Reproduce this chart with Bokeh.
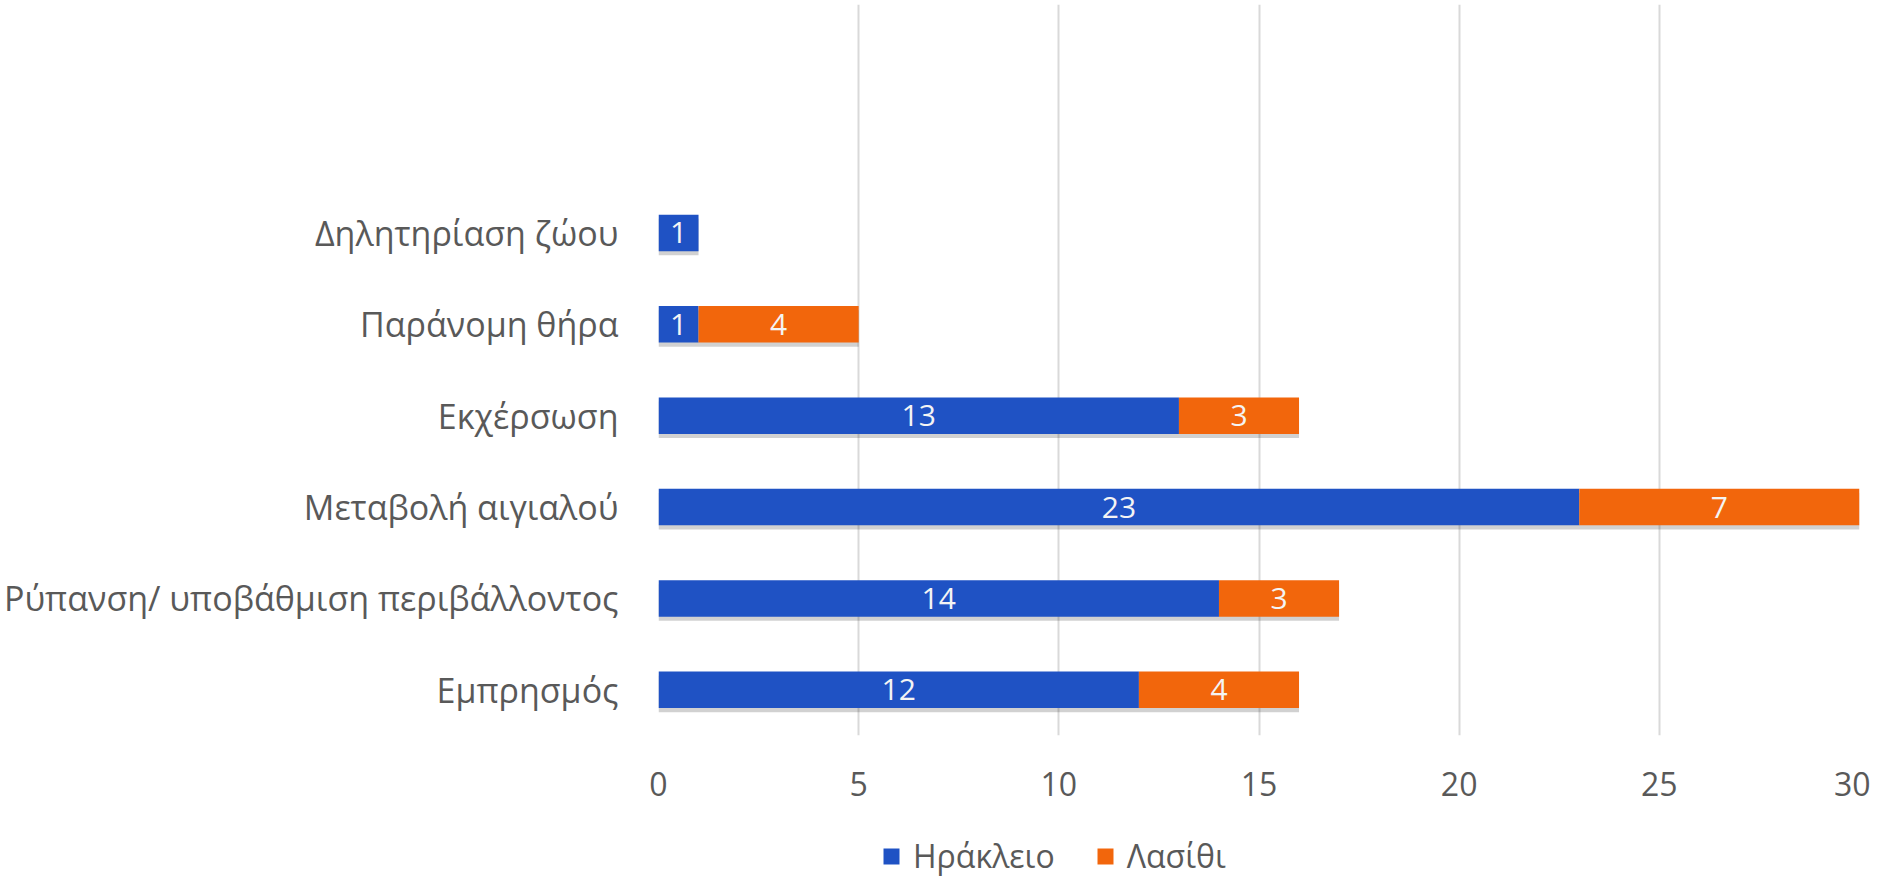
from bokeh.plotting import figure
from bokeh.layouts import column
from bokeh.models import Range1d, FixedTicker, Legend, LegendItem, ColumnDataSource
from bokeh.core.properties import value
from bokeh.embed import file_html
from bokeh.resources import INLINE

# Data (bottom to top)
categories = ["Εμπρησμός", "Ρύπανση/ υποβάθμιση περιβάλλοντος", "Μεταβολή αιγιαλού",
              "Εκχέρσωση", "Παράνομη θήρα", "Δηλητηρίαση ζώου"]
heraklion = [12, 14, 23, 13, 1, 1]
lasithi = [4, 3, 7, 3, 4, 0]
series_names = ["Ηράκλειο", "Λασίθι"]
x_ticks = [0, 5, 10, 15, 20, 25, 30]

BLUE = "#1F52C4"
ORANGE = "#F2660C"
GREY_TXT = "#595959"
FONT = "Open Sans"

ys = list(range(len(categories)))
left2 = heraklion[:]
right2 = [a + b for a, b in zip(heraklion, lasithi)]

W = 1870
H_MAIN = 833
H_LEG = 44

p = figure(width=W, height=H_MAIN, output_backend="svg", toolbar_location=None,
           x_range=Range1d(0, 30), y_range=Range1d(-0.5, 7.5),
           min_border_left=654, min_border_right=11, min_border_top=4,
           min_border_bottom=H_MAIN - 735)
p.outline_line_color = None
p.background_fill_color = "white"
p.border_fill_color = "white"

# grid
p.xgrid.ticker = FixedTicker(ticks=x_ticks)
p.xgrid.grid_line_color = "#D9D9D9"
p.xgrid.grid_line_width = 2
p.ygrid.grid_line_color = None

# axes
p.xaxis.ticker = FixedTicker(ticks=x_ticks)
p.xaxis.axis_line_color = None
p.xaxis.major_tick_line_color = None
p.xaxis.minor_tick_line_color = None
p.xaxis.major_label_text_font = FONT
p.xaxis.major_label_text_font_size = "32px"
p.xaxis.major_label_text_color = GREY_TXT
p.xaxis.major_label_standoff = 30

p.yaxis.ticker = FixedTicker(ticks=ys)
p.yaxis.major_label_overrides = {i: c for i, c in enumerate(categories)}
p.yaxis.axis_line_color = None
p.yaxis.major_tick_line_color = None
p.yaxis.minor_tick_line_color = None
p.yaxis.major_label_text_font = FONT
p.yaxis.major_label_text_font_size = "34px"
p.yaxis.major_label_text_color = GREY_TXT
p.yaxis.major_label_standoff = 34

H_BAR = 0.40
SH = 0.045

# shadows
p.hbar(y=[y - SH for y in ys], left=0, right=right2, height=H_BAR,
       fill_color="#000000", fill_alpha=0.18, line_color=None)

src1 = ColumnDataSource(dict(y=ys, left=[0] * len(ys), right=heraklion))
r1 = p.hbar(y="y", left="left", right="right", height=H_BAR, source=src1,
            fill_color=BLUE, line_color=None)
src2 = ColumnDataSource(dict(y=ys, left=left2, right=right2))
r2 = p.hbar(y="y", left="left", right="right", height=H_BAR, source=src2,
            fill_color=ORANGE, line_color=None)

# data labels
lx, ly, lt = [], [], []
for i in ys:
    if heraklion[i] > 0:
        lx.append(heraklion[i] / 2); ly.append(i); lt.append(str(heraklion[i]))
    if lasithi[i] > 0:
        lx.append(heraklion[i] + lasithi[i] / 2); ly.append(i); lt.append(str(lasithi[i]))
p.text(x=lx, y=ly, text=lt, text_align="center", text_baseline="middle",
       text_color="#F4F4F4", text_font=value(FONT), text_font_size="30px")

# legend strip (separate figure below the chart; its frame aligns with the chart's)
p2 = figure(width=W, height=H_LEG, output_backend="svg", toolbar_location=None,
            x_range=Range1d(0, 30), y_range=Range1d(100, 101), min_border=0)
p2.axis.visible = False
p2.grid.visible = False
p2.outline_line_color = None
p2.background_fill_color = "white"
p2.border_fill_color = "white"
# same data, outside the visible range: only used as legend proxies
d1 = p2.hbar(y="y", left="left", right="right", height=H_BAR, source=src1,
             fill_color=BLUE, line_color=None)
d2 = p2.hbar(y="y", left="left", right="right", height=H_BAR, source=src2,
             fill_color=ORANGE, line_color=None)

legend = Legend(items=[LegendItem(label=series_names[0], renderers=[d1]),
                       LegendItem(label=series_names[1], renderers=[d2])],
                orientation="horizontal", location=(223, 0))
legend.label_text_font = FONT
legend.label_text_font_size = "32px"
legend.label_text_color = GREY_TXT
legend.glyph_width = 20
legend.glyph_height = 20
legend.label_standoff = 12
legend.spacing = 40
legend.padding = 0
legend.margin = 0
legend.border_line_color = None
legend.background_fill_alpha = 0
p2.add_layout(legend, "center")

layout = column(p, p2, spacing=0)
open("out.html", "w").write(file_html(layout, INLINE))
